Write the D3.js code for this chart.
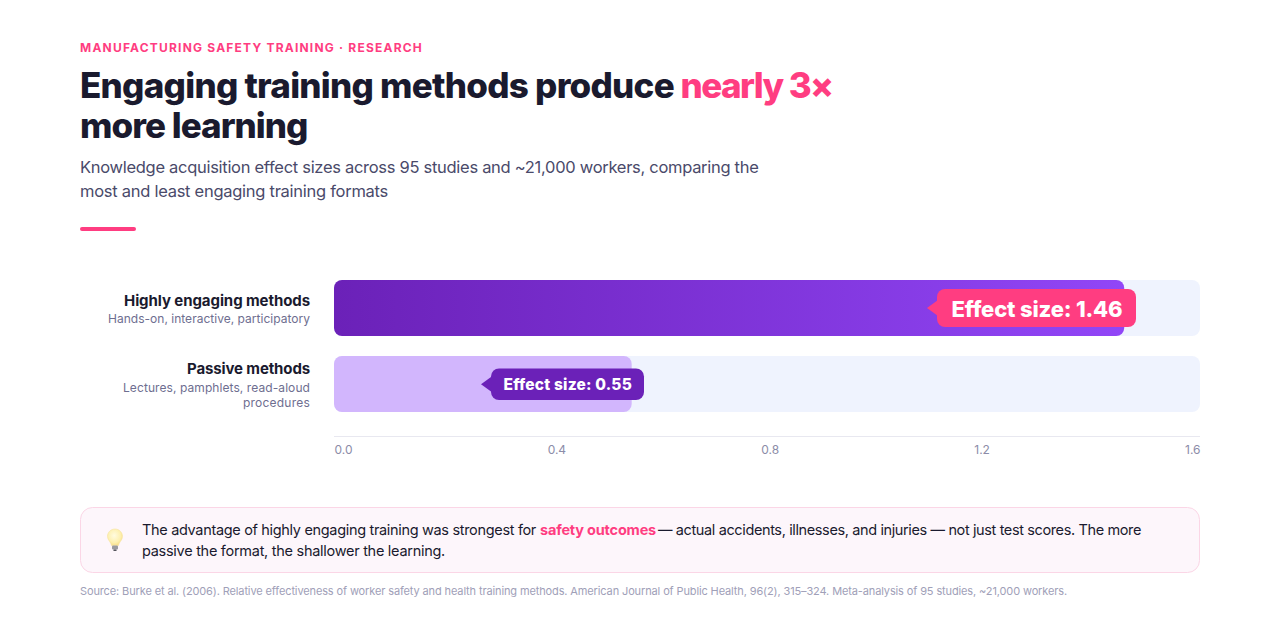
<!DOCTYPE html>
<html><head><meta charset="utf-8">
<style>html,body{margin:0;padding:0;background:#fff}svg{display:block}text{font-family:Inter,"Noto Sans",sans-serif;font-kerning:normal}</style>
<script src="https://cdn.jsdelivr.net/npm/d3@7"></script></head><body>
<svg id="c" width="1280" height="630"></svg>
<script>
const categories=["Highly engaging methods","Passive methods"];
const subLabels=[["Hands-on, interactive, participatory"],["Lectures, pamphlets, read-aloud","procedures"]];
const values=[1.46,0.55];
const badgeLabels=["Effect size: 1.46","Effect size: 0.55"];
const tickValues=[0,0.4,0.8,1.2,1.6];

const PINK="#ff3d81",DARK="#1a1a2e",PURPLE="#6b21b8";
const svg=d3.select("#c");
const defs=svg.append("defs");
const g=defs.append("linearGradient").attr("id","bar0");
g.append("stop").attr("offset",0).attr("stop-color","#6b21b8");
g.append("stop").attr("offset",1).attr("stop-color","#9146f7");
const bulbG=defs.append("radialGradient").attr("id","bulb").attr("cx",.45).attr("cy",.4).attr("r",.6);
bulbG.append("stop").attr("offset",0).attr("stop-color","#fffbe0");
bulbG.append("stop").attr("offset",.7).attr("stop-color","#fdf0b0");
bulbG.append("stop").attr("offset",1).attr("stop-color","#f8e08c");

// Put a text at x/baseline and stretch its tracking to span a given width
function txt(x,y,str,o){
  const t=svg.append("text").attr("x",x).attr("y",y).text(str)
    .attr("font-size",o.size).attr("font-weight",o.weight||400).attr("fill",o.fill||DARK)
    .attr("text-anchor",o.anchor||"start").style("white-space","pre");
  if(o.width){const w=t.node().getComputedTextLength();
    t.style("letter-spacing",((o.width-w)/str.length)+"px");}
  return t;
}
txt(80,52,"MANUFACTURING SAFETY TRAINING · RESEARCH",{size:12,weight:700,fill:PINK,width:343});
txt(80,98,"Engaging training methods produce",{size:35,weight:800,width:594});
txt(680.5,98,"nearly 3×",{size:35,weight:800,fill:PINK,width:152});
txt(80,138,"more learning",{size:35,weight:800,width:227.5});
txt(80,173,"Knowledge acquisition effect sizes across 95 studies and ~21,000 workers, comparing the",{size:16.5,fill:"#4a4a6a",width:678.5});
txt(80,197,"most and least engaging training formats",{size:16.5,fill:"#4a4a6a",width:308});
svg.append("rect").attr("x",80).attr("y",227).attr("width",56).attr("height",4).attr("rx",2).attr("fill",PINK);

const x=d3.scaleLinear().domain([0,1.6]).range([334,1200]);
const y=d3.scaleBand().domain(categories).range([280,412]).paddingInner(20/76);

categories.forEach((c,i)=>{
  svg.append("rect").attr("x",x(0)).attr("y",y(c)).attr("width",x(1.6)-x(0)).attr("height",y.bandwidth()).attr("rx",8).attr("fill","#eff3fe");
  svg.append("rect").attr("x",x(0)).attr("y",y(c)).attr("width",x(values[i])-x(0)).attr("height",y.bandwidth()).attr("rx",8)
    .attr("fill",i==0?"url(#bar0)":"#d2b6fd");
});
// labels
const lw=[186,123],slw=[[202],[187,67]];
const nameDy=[26,18],subDy=[43,36];
categories.forEach((c,i)=>{
  txt(310,y(c)+nameDy[i],c,{size:15,weight:700,anchor:"end",width:lw[i]});
  subLabels[i].forEach((s,j)=>txt(310,y(c)+subDy[i]+j*15,s,{size:12,fill:"#6e6e90",anchor:"end",width:slw[i][j]}));
});
// badges
const bdg=[{l:937,r:1136,t:289,b:327,fs:22,tx:951.5,tw:171,fill:PINK,dy:8.500},{l:491,r:644,t:368.5,b:400,fs:15.5,tx:503.5,tw:128.5,fill:PURPLE,dy:5.600}];
bdg.forEach((b,i)=>{
  const mid=(b.t+b.b)/2;
  svg.append("path").attr("d",d3.line()([[b.l+1,mid-8],[b.l-10,mid],[b.l+1,mid+8]])+"Z").attr("fill",b.fill);
  svg.append("rect").attr("x",b.l).attr("y",b.t).attr("width",b.r-b.l).attr("height",b.b-b.t).attr("rx",8).attr("fill",b.fill);
  txt(b.tx,mid+b.dy,badgeLabels[i],{size:b.fs,weight:800,fill:"#fff",width:b.tw});
});
// axis
const ax=svg.append("g").attr("transform","translate(0,436)").call(d3.axisBottom(x).tickValues(tickValues).tickSize(0).tickPadding(6).tickFormat(d3.format(".1f")));
ax.select(".domain").attr("stroke","#e8e8f0").attr("stroke-width",1).attr("d","M334,0.5H1200");
const labs=ax.selectAll("text").attr("font-size",12).attr("fill","#8c8ca8").attr("text-anchor","start").attr("y",18).attr("dy",null);
// ticks are spread edge to edge, the way the original lays them out
const ws=[];labs.each(function(){ws.push(this.getComputedTextLength())});
const gap=(866-d3.sum(ws))/(ws.length-1);let cur=334;
labs.each(function(d,i){d3.select(this).attr("x",cur-x(d));cur+=ws[i]+gap;});
ax.attr("font-family",null);
// callout
svg.append("rect").attr("x",80.5).attr("y",507.5).attr("width",1119).attr("height",65).attr("rx",12).attr("fill","#fdf6fb").attr("stroke","#fbd6e6");
const bulb=svg.append("g");
bulb.append("path").attr("d","M115,529c-4.2,0-7.5,3.3-7.5,7.3c0,3.2,2.2,4.8,3.2,7c.5,1.1.6,1.7.8,2.2h7c.2-.5.3-1.1.8-2.2c1-2.2,3.2-3.8,3.2-7C122.5,532.3,119.200,529,115,529z").attr("fill","url(#bulb)").attr("stroke","#f6e3a0").attr("stroke-width",.6);
bulb.append("rect").attr("x",112).attr("y",545.5).attr("width",6).attr("height",4).attr("rx",1).attr("fill","#9a9a9e");
bulb.append("rect").attr("x",113.300).attr("y",549.5).attr("width",3.4).attr("height",1.5).attr("rx",.7).attr("fill","#55555c");
txt(142,535,"The advantage of highly engaging training was strongest for",{size:14.5,width:394});
txt(540,535,"safety outcomes",{size:14.5,weight:700,fill:PINK,width:116});
txt(658,535,"— actual accidents, illnesses, and injuries — not just test scores. The more",{size:14.5,width:483});
txt(142,556,"passive the format, the shallower the learning.",{size:14.5,width:303});
txt(80,595,"Source: Burke et al. (2006). Relative effectiveness of worker safety and health training methods. American Journal of Public Health, 96(2), 315–324. Meta-analysis of 95 studies, ~21,000 workers.",{size:11,fill:"#a0a0b8",width:987});
</script></body></html>
